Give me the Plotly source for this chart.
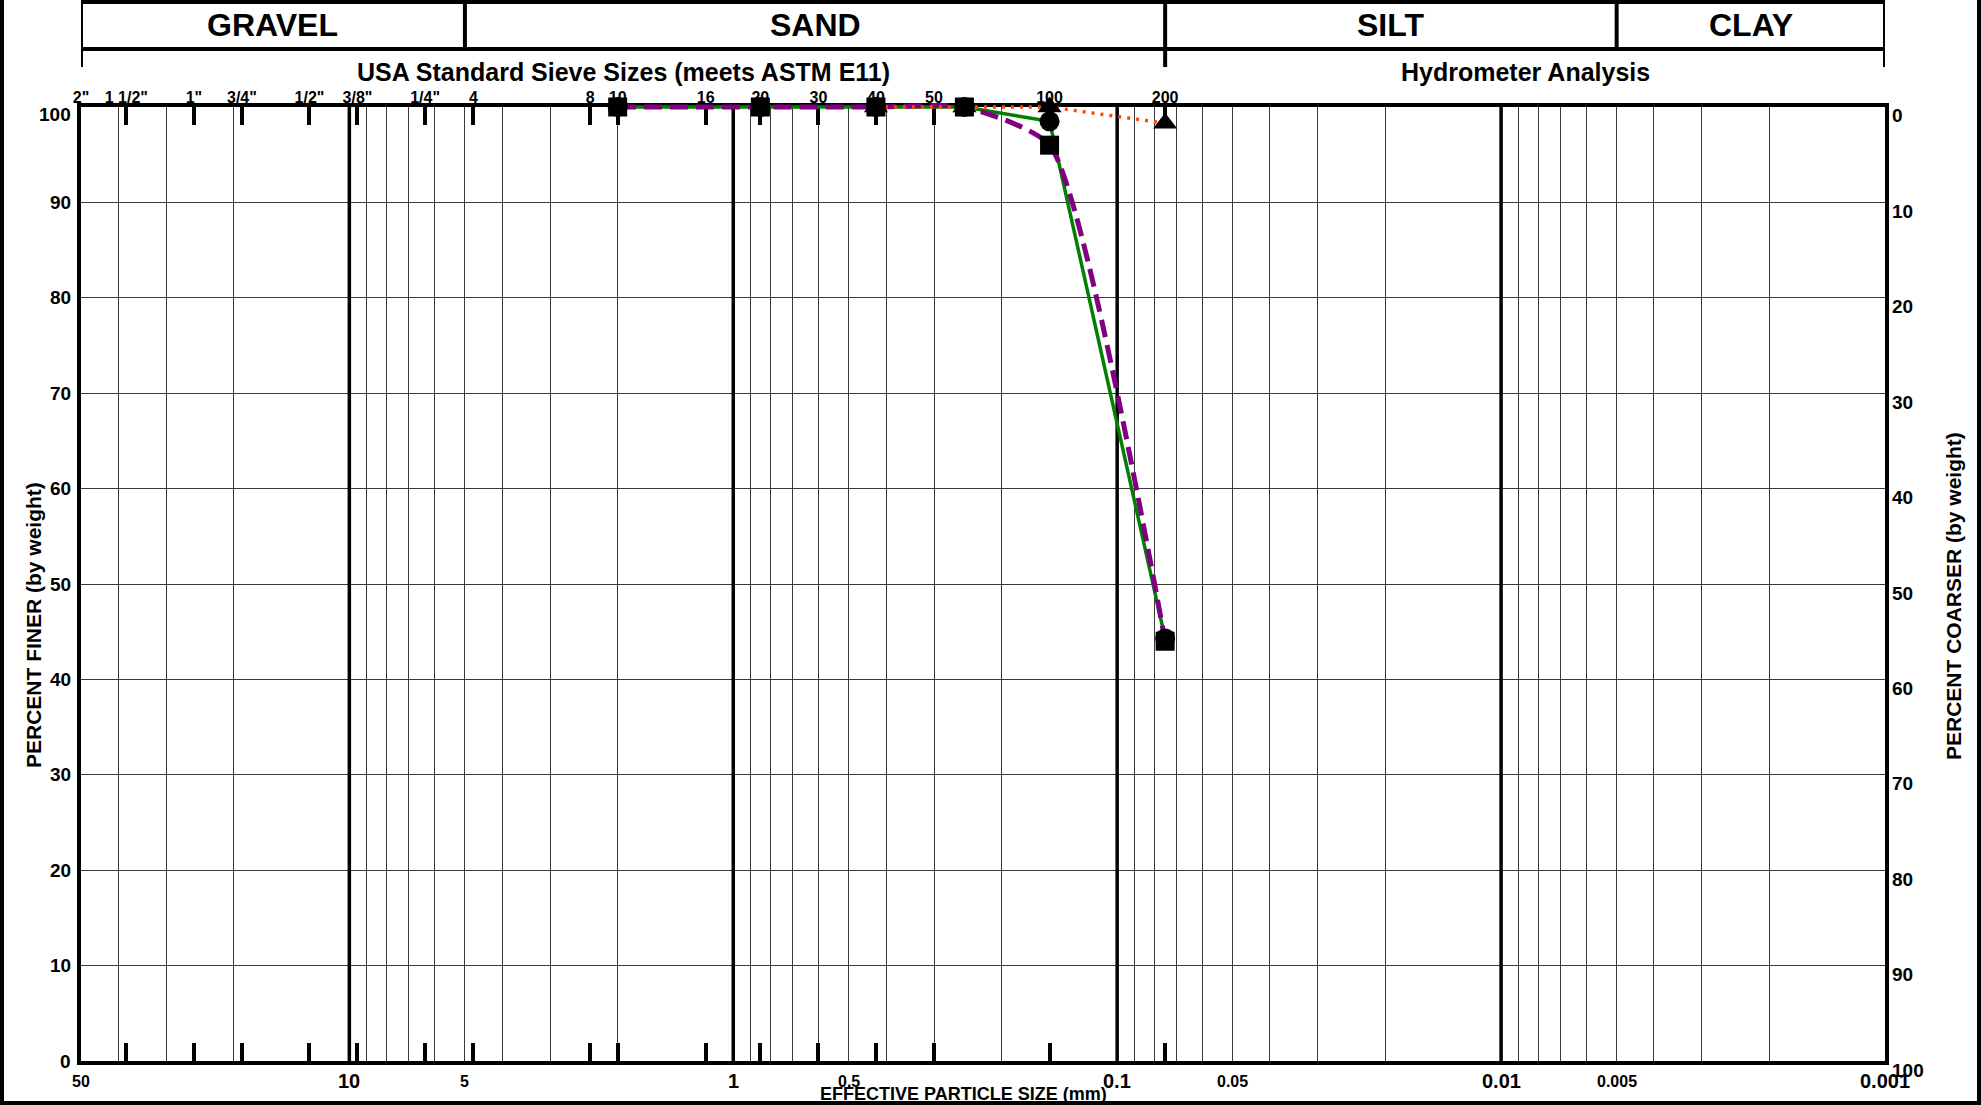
import math
import plotly.graph_objects as go

# ---- Grain size data: sieve opening (mm) vs. percent passing ----
sieve_mm = [2.0, 0.85, 0.425, 0.25, 0.15, 0.075]
green_pass = [100, 100, 100, 100, 98.5, 44.3]
purple_pass = [100, 100, 100, 100, 96.0, 44.0]
orange_mm = [0.425, 0.25, 0.15, 0.075]
orange_pass = [100, 100, 100, 98.3]

# ---- Top scale: US standard sieve designations ----
sieve_tick_mm = [50, 38.1, 25.4, 19.05, 12.7, 9.525, 6.35, 4.75, 2.36, 2.0,
                 1.18, 0.85, 0.6, 0.425, 0.3, 0.15, 0.075]
sieve_tick_text = ['2"', '1 1/2"', '1"', '3/4"', '1/2"', '3/8"', '1/4"', '4', '8', '10',
                   '16', '20', '30', '40', '50', '100', '200']

# ---- Bottom scale: particle size labels (mm) ----
size_vals = [50, 10, 5, 1, 0.5, 0.1, 0.05, 0.01, 0.005, 0.001]
size_text = ['50', '10', '5', '1', '0.5', '0.1', '0.05', '0.01', '0.005', '0.001']
decade_vals = [10, 1, 0.1, 0.01]

percent_vals = [0, 10, 20, 30, 40, 50, 60, 70, 80, 90, 100]

# ---- Soil classes and their size limits (mm) ----
class_names = ['GRAVEL', 'SAND', 'SILT', 'CLAY']
class_bounds = [50, 5, 0.075, 0.005, 0.001]

X_MAX, X_MIN = 50, 0.001
FONT = 'Liberation Sans, Arial, sans-serif'

# ---- Page geometry (pixels) ----
W, H = 1981, 1105
PL, PR, PT, PB = 81, 1885, 107, 1061      # grid frame
PAD = 8                                   # extra room so curves on the frame are not clipped
PH = PB - PT + 2 * PAD


def ypx(py):
    """pixel row -> paper y"""
    return (PB + PAD - py) / PH


def xpx(px):
    """pixel column -> paper x"""
    return (px - PL) / (PR - PL)


pad_units = PAD * 100.0 / (PB - PT)
log_range = [math.log10(X_MAX), math.log10(X_MIN)]

# log-cycle grid positions 1..9 x 10^n
grid_vals = [k * 10.0 ** n for n in range(-3, 2) for k in range(1, 10)
             if X_MIN <= k * 10.0 ** n <= X_MAX]

fig = go.Figure()

# heavy lines at each log cycle
for d in decade_vals:
    fig.add_trace(go.Scatter(x=[d, d], y=[0, 100], mode='lines',
                             line=dict(color='black', width=3.5),
                             hoverinfo='skip', showlegend=False,
                             xaxis='x', yaxis='y'))

# empty trace so the sieve scale (x2) is laid out
fig.add_trace(go.Scatter(x=[X_MAX, X_MIN], y=[None, None], mode='lines',
                         hoverinfo='skip', showlegend=False,
                         xaxis='x2', yaxis='y'))

# gradation curves
fig.add_trace(go.Scatter(x=sieve_mm, y=green_pass, mode='lines',
                         line=dict(color='#008000', width=3.5),
                         showlegend=False, xaxis='x3', yaxis='y3'))
fig.add_trace(go.Scatter(x=sieve_mm, y=purple_pass, mode='lines',
                         line=dict(color='#800080', width=5, dash='18px,8px',
                                   shape='spline', smoothing=0.55),
                         showlegend=False, xaxis='x3', yaxis='y3'))
fig.add_trace(go.Scatter(x=orange_mm, y=orange_pass, mode='lines',
                         line=dict(color='#FF4500', width=3.5, dash='3px,6px'),
                         showlegend=False, xaxis='x3', yaxis='y3'))

# sample markers
fig.add_trace(go.Scatter(x=sieve_mm, y=green_pass, mode='markers', cliponaxis=False,
                         marker=dict(symbol='circle', size=20, color='black'),
                         showlegend=False, xaxis='x3', yaxis='y3'))
fig.add_trace(go.Scatter(x=orange_mm, y=orange_pass, mode='markers', cliponaxis=False,
                         marker=dict(symbol='triangle-up', size=21, color='black'),
                         showlegend=False, xaxis='x3', yaxis='y3'))
fig.add_trace(go.Scatter(x=sieve_mm, y=purple_pass, mode='markers', cliponaxis=False,
                         marker=dict(symbol='square', size=19, color='black'),
                         showlegend=False, xaxis='x3', yaxis='y3'))

grid_dom = [PAD / PH, 1 - PAD / PH]

layout = dict(
    width=W, height=H,
    margin=dict(l=PL, r=W - PR, t=PT - PAD, b=H - PB - PAD, pad=0),
    paper_bgcolor='white', plot_bgcolor='rgba(0,0,0,0)',
    showlegend=False,
    font=dict(family=FONT, color='black'),
    xaxis=dict(type='log', range=log_range, domain=[0, 1], anchor='y',
               tickmode='array', tickvals=grid_vals, showticklabels=False,
               ticks='', showgrid=True, gridcolor='#3a3a3a', gridwidth=1.3,
               zeroline=False, showline=True, linecolor='black', linewidth=4,
               mirror=True),
    xaxis2=dict(type='log', range=log_range, overlaying='x', anchor='y', side='top',
                tickmode='array', tickvals=sieve_tick_mm,
                ticktext=['<b>' + t + '</b>' for t in sieve_tick_text],
                tickfont=dict(family=FONT, size=16, color='black'),
                ticks='inside', ticklen=18, tickwidth=3.5, tickcolor='black',
                ticklabelstandoff=-6,
                mirror='ticks', showline=True, linecolor='black', linewidth=4,
                showgrid=False, zeroline=False),
    yaxis=dict(range=[0, 100], domain=grid_dom, anchor='x',
               tickmode='array', tickvals=percent_vals, showticklabels=False,
               ticks='', showgrid=True, gridcolor='#3a3a3a', gridwidth=1.3,
               zeroline=False, showline=True, linecolor='black', linewidth=4,
               mirror=True),
    xaxis3=dict(type='log', range=log_range, domain=[0, 1], anchor='y3',
                visible=False),
    yaxis3=dict(range=[-pad_units, 100 + pad_units], domain=[0, 1], anchor='x3',
                visible=False),
)
fig.update_layout(**layout)

ann = []


def label(text, x, y, size, xref='paper', yref='paper', xanchor='center',
          yanchor='middle', angle=0, yshift=0):
    ann.append(dict(text='<b>' + text + '</b>', x=x, y=y, xref=xref, yref=yref,
                    xanchor=xanchor, yanchor=yanchor, textangle=angle,
                    yshift=yshift, showarrow=False,
                    font=dict(family=FONT, size=size, color='black')))


# percent finer (left) and percent coarser (right)
for v in percent_vals:
    label(str(v), xpx(PL - 8), v, 19, yref='y', xanchor='right',
          yshift=-8 if v == 100 else 0)
    label(str(100 - v), xpx(PR + 5), v, 19, yref='y', xanchor='left', yshift=-9)

# particle size labels along the bottom
for v, t in zip(size_vals, size_text):
    big = v in (10, 1, 0.1, 0.01, 0.001)
    label(t, math.log10(v), ypx(1081), 20 if big else 16, xref='x')

label('EFFECTIVE PARTICLE SIZE (mm)', xpx(963), ypx(1094), 18)
label('PERCENT FINER (by weight)', xpx(33), ypx(625), 21, angle=-90)
label('PERCENT COARSER (by weight)', xpx(1953), ypx(596), 21, angle=-90)

# classification header
for i, name in enumerate(class_names):
    mid = (math.log10(class_bounds[i]) + math.log10(class_bounds[i + 1])) / 2
    label(name, mid, ypx(25), 32, xref='x')
sieve_mid = (math.log10(class_bounds[0]) + math.log10(class_bounds[2])) / 2
hydro_mid = (math.log10(class_bounds[2]) + math.log10(class_bounds[4])) / 2
label('USA Standard Sieve Sizes (meets ASTM E11)', sieve_mid, ypx(72), 25, xref='x')
label('Hydrometer Analysis', hydro_mid, ypx(72), 25, xref='x')

shapes = []


def seg(x0, y0, x1, y1, xref='paper', width=4):
    shapes.append(dict(type='line', x0=x0, y0=y0, x1=x1, y1=y1, xref=xref,
                       yref='paper', line=dict(color='black', width=width)))


# header boxes
seg(0, ypx(2), 1, ypx(2))
seg(0, ypx(49), 1, ypx(49))
for b in class_bounds:
    seg(b, ypx(2), b, ypx(49), xref='x')
for b in (class_bounds[0], class_bounds[2], class_bounds[4]):
    seg(b, ypx(49), b, ypx(67), xref='x')

# page frame (left, right, bottom)
seg(xpx(2), ypx(0), xpx(2), ypx(1103))
seg(xpx(1979), ypx(0), xpx(1979), ypx(1103))
seg(xpx(0), ypx(1103), xpx(1981), ypx(1103))

fig.update_layout(annotations=ann, shapes=shapes)
fig.write_html('out.html')
